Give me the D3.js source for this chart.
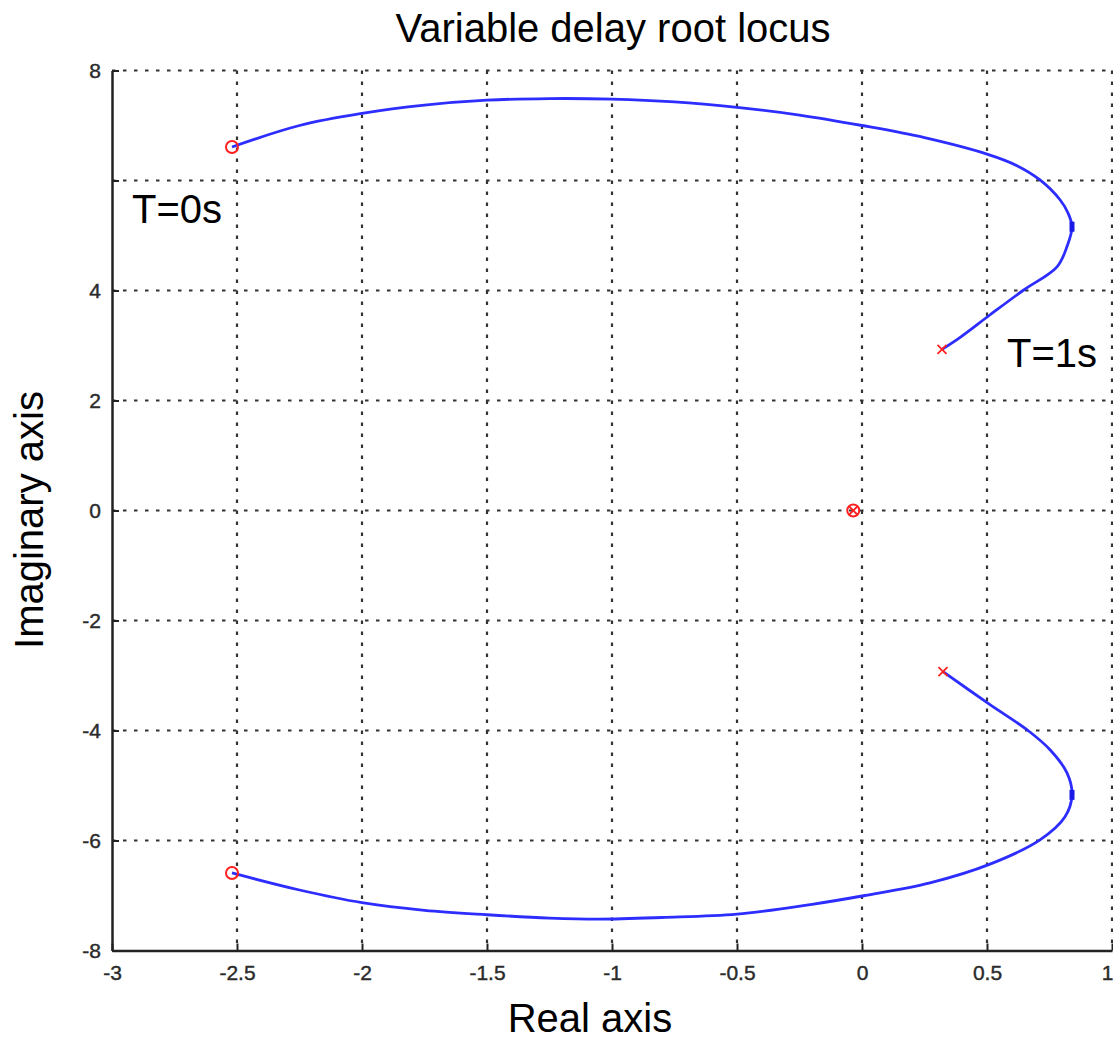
<!DOCTYPE html>
<html>
<head>
<meta charset="utf-8">
<script src="https://cdn.jsdelivr.net/npm/d3@7"></script>
<style>
  html, body { margin: 0; padding: 0; background: #fff; }
  svg { display: block; font-family: "Liberation Sans", Arial, sans-serif; }
</style>
</head>
<body>
<svg id="chart" width="1113" height="1040"></svg>
<script>
// ---- data ----
const upperBranchRe = [-2.52, -2.25, -2.00, -1.75, -1.50, -1.25, -1.00, -0.75, -0.50, -0.25, 0.00, 0.25, 0.50, 0.62, 0.712, 0.792, 0.824, 0.84, 0.82, 0.78, 0.644, 0.51, 0.39, 0.32];
const upperBranchIm = [6.61, 7.00, 7.22, 7.37, 7.46, 7.49, 7.48, 7.43, 7.33, 7.19, 7.00, 6.78, 6.48, 6.27, 6.01, 5.65, 5.41, 5.16, 4.80, 4.43, 4.00, 3.55, 3.14, 2.93];
const lowerBranchRe = [-2.52, -2.25, -2.00, -1.75, -1.50, -1.25, -1.05, -0.80, -0.50, -0.20, 0.012, 0.272, 0.512, 0.712, 0.812, 0.84, 0.82, 0.752, 0.664, 0.512, 0.324];
const lowerBranchIm = [-6.59, -6.90, -7.13, -7.27, -7.35, -7.41, -7.43, -7.40, -7.34, -7.16, -7.00, -6.77, -6.43, -5.99, -5.57, -5.17, -4.77, -4.35, -4.00, -3.53, -2.93];
const zerosRe = [-2.52, -2.52, -0.035];   // circles (T=0 start points, origin)
const zerosIm = [6.61, -6.59, 0];
const polesRe = [0.32, 0.324, -0.035];    // crosses (T=1 end points, origin)
const polesIm = [2.93, -2.93, 0];
const peakMarksRe = [0.84, 0.84];
const peakMarksIm = [5.16, -5.17];
const xTicks = [-3, -2.5, -2, -1.5, -1, -0.5, 0, 0.5, 1];
const xTickLabels = ["-3", "-2.5", "-2", "-1.5", "-1", "-0.5", "0", "0.5", "1"];
const yTicks = [-8, -6, -4, -2, 0, 2, 4, 6, 8];
const yTickLabels = ["-8", "-6", "-4", "-2", "0", "2", "4", "", "8"];
const annotations = [
  { text: "T=0s", re: -2.92, im: 5.23 },
  { text: "T=1s", re: 0.58, im: 2.61 }
];

// ---- layout ----
const svg = d3.select("#chart");
const x = d3.scaleLinear().domain([-3, 1]).range([112, 1112]);
const y = d3.scaleLinear().domain([-8, 8]).range([950.5, 70.5]);
const gridColor = "#333";
const FONT = "Liberation Sans, Arial, sans-serif";

// gridlines
const grid = svg.append("g");
grid.selectAll("line.v").data(xTicks.filter(d => d > -3)).join("line")
  .attr("x1", d => x(d)).attr("x2", d => x(d))
  .attr("y1", y(8)).attr("y2", y(-8))
  .attr("stroke", gridColor).attr("stroke-width", 2.2)
  .attr("stroke-dasharray", "3.5,7.5");
grid.selectAll("line.h").data(yTicks.filter(d => d > -8)).join("line")
  .attr("x1", x(-3)).attr("x2", x(1))
  .attr("y1", d => y(d)).attr("y2", d => y(d))
  .attr("stroke", gridColor).attr("stroke-width", 2.2)
  .attr("stroke-dasharray", "3.5,7.5");

// axes
const xAxis = d3.axisBottom(x).tickValues(xTicks)
  .tickFormat((d, i) => xTickLabels[i]).tickSizeInner(-7).tickSizeOuter(0).tickPadding(15);
const gx = svg.append("g").attr("transform", `translate(0,${y(-8)})`).call(xAxis)
  .attr("font-size", 21).attr("font-family", FONT);
gx.select(".domain").attr("stroke", "#222").attr("stroke-width", 2.5);
gx.selectAll(".tick line").attr("stroke", "#222").attr("stroke-width", 2);
gx.selectAll(".tick text").attr("fill", "#2a2a2a")
  .attr("stroke", "#2a2a2a").attr("stroke-width", 0.4)
  .attr("text-anchor", d => d === 1 ? "end" : "middle")
  .attr("dx", d => d === 1 ? 1 : 0);

const yAxis = d3.axisLeft(y).tickValues(yTicks)
  .tickFormat((d, i) => yTickLabels[i]).tickSizeInner(-7).tickSizeOuter(0).tickPadding(11);
const gy = svg.append("g").attr("transform", `translate(${x(-3)},0)`).call(yAxis)
  .attr("font-size", 21).attr("font-family", FONT);
gy.select(".domain").attr("stroke", "#222").attr("stroke-width", 2.5);
gy.selectAll(".tick line").attr("stroke", "#222").attr("stroke-width", 2);
gy.selectAll(".tick text").attr("fill", "#2a2a2a")
  .attr("stroke", "#2a2a2a").attr("stroke-width", 0.4);

// branches
const line = d3.line().x(d => x(d[0])).y(d => y(d[1])).curve(d3.curveCatmullRom.alpha(0.5));
const upper = upperBranchRe.map((r, i) => [r, upperBranchIm[i]]);
const lower = lowerBranchRe.map((r, i) => [r, lowerBranchIm[i]]);
svg.append("g").selectAll("path").data([upper, lower]).join("path")
  .attr("d", line).attr("fill", "none")
  .attr("stroke", "#2d2dff").attr("stroke-width", 2.8)
  .attr("stroke-linejoin", "round");

// small peak marks on the branches
const peaks = peakMarksRe.map((r, i) => [r, peakMarksIm[i]]);
svg.append("g").selectAll("rect").data(peaks).join("rect")
  .attr("x", d => x(d[0]) - 2.5).attr("y", d => y(d[1]) - 5)
  .attr("width", 5).attr("height", 10).attr("fill", "#1a1ae6");

// markers
const circles = zerosRe.map((r, i) => [r, zerosIm[i]]);
svg.append("g").selectAll("circle").data(circles).join("circle")
  .attr("cx", d => x(d[0])).attr("cy", d => y(d[1])).attr("r", 6)
  .attr("fill", "none").attr("stroke", "#ff2020").attr("stroke-width", 2);
const crosses = polesRe.map((r, i) => [r, polesIm[i]]);
const cs = 4.5;
svg.append("g").selectAll("path").data(crosses).join("path")
  .attr("d", d => {
    const cx = x(d[0]), cy = y(d[1]);
    return `M${cx - cs},${cy - cs}L${cx + cs},${cy + cs}M${cx - cs},${cy + cs}L${cx + cs},${cy - cs}`;
  })
  .attr("stroke", "#ff2020").attr("stroke-width", 1.8).attr("fill", "none");

// annotations
svg.append("g").selectAll("text").data(annotations).join("text")
  .attr("x", d => x(d.re)).attr("y", d => y(d.im))
  .attr("font-size", 40).attr("fill", "#000").text(d => d.text);

// titles
svg.append("text").attr("x", 613).attr("y", 42).attr("text-anchor", "middle")
  .attr("font-size", 40).attr("fill", "#000").text("Variable delay root locus");
svg.append("text").attr("x", 590).attr("y", 1032).attr("text-anchor", "middle")
  .attr("font-size", 40).attr("fill", "#000").text("Real axis");
svg.append("text").attr("transform", "translate(43,520) rotate(-90)").attr("text-anchor", "middle")
  .attr("font-size", 40).attr("fill", "#000").text("Imaginary axis");
</script>
</body>
</html>
